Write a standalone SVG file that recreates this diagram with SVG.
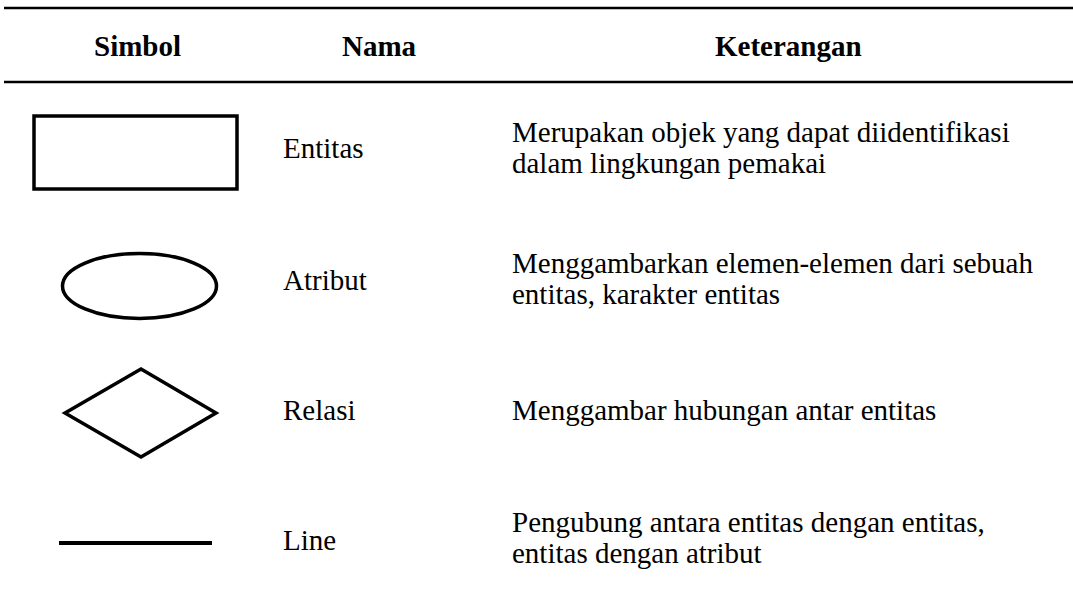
<svg xmlns="http://www.w3.org/2000/svg" width="1073" height="598" viewBox="0 0 1073 598">
<style>
.h{font-family:"Liberation Serif","Times New Roman",serif;font-weight:bold;font-size:29px;fill:#000}
.t{font-family:"Liberation Serif","Times New Roman",serif;font-size:29px;fill:#000}
.s{fill:none;stroke:#000;stroke-width:3.5}
.rule{stroke:#000;stroke-width:2.5}
</style>
<rect width="1073" height="598" fill="#fff"/>
<g id="rules">
<line class="rule" x1="4" y1="8" x2="1073" y2="8"/>
<line class="rule" x1="4" y1="82" x2="1073" y2="82"/>
</g>
<g id="header">
<text class="h" x="94" y="56">Simbol</text>
<text class="h" x="342" y="56">Nama</text>
<text class="h" x="715" y="56">Keterangan</text>
</g>
<g id="entitas">
<rect class="s" x="34" y="116" width="203" height="73"/>
<text class="t" x="283" y="158">Entitas</text>
<text class="t" x="512" y="142">Merupakan objek yang dapat diidentifikasi</text>
<text class="t" x="512" y="173">dalam lingkungan pemakai</text>
</g>
<g id="atribut">
<ellipse class="s" cx="139.5" cy="286" rx="77" ry="32.5"/>
<text class="t" x="283" y="290">Atribut</text>
<text class="t" x="512" y="273">Menggambarkan elemen-elemen dari sebuah</text>
<text class="t" x="512" y="304">entitas, karakter entitas</text>
</g>
<g id="relasi">
<polygon class="s" points="141,369 216,413 141,457 65,413"/>
<text class="t" x="283" y="420">Relasi</text>
<text class="t" x="512" y="420">Menggambar hubungan antar entitas</text>
</g>
<g id="line">
<line x1="59" y1="543" x2="212" y2="543" stroke="#000" stroke-width="4"/>
<text class="t" x="283" y="550">Line</text>
<text class="t" x="512" y="532">Pengubung antara entitas dengan entitas,</text>
<text class="t" x="512" y="563">entitas dengan atribut</text>
</g>
</svg>
